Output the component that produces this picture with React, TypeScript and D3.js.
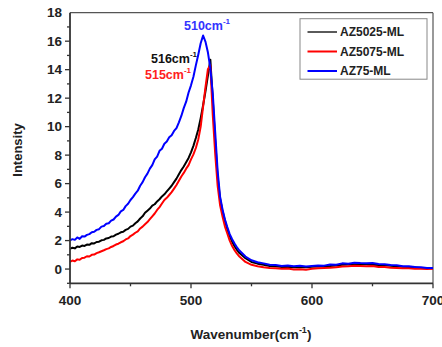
import React from "react";
import * as d3 from "d3";

const wavenumbers = [
  400, 402, 404, 406, 408, 410, 412, 414, 416, 418, 420, 422, 424, 426, 428, 430, 432, 434, 436, 438,
  440, 442, 444, 446, 448, 450, 452, 454, 456, 458, 460, 462, 464, 466, 468, 470, 472, 474, 476, 478,
  480, 482, 484, 486, 488, 490, 492, 494, 496, 498, 500, 502, 504, 506, 508, 510, 512, 514, 516, 518,
  520, 522, 524, 526, 528, 530, 532, 534, 536, 538, 540, 545, 550, 555, 560, 565, 570, 575, 580, 585,
  590, 595, 600, 605, 610, 615, 620, 625, 630, 635, 640, 645, 650, 655, 660, 665, 670, 675, 680, 685,
  690, 695, 700,
];

const az5025 = [
  1.42, 1.5, 1.45, 1.58, 1.55, 1.65, 1.62, 1.72, 1.7, 1.82, 1.8, 1.9, 1.92, 2.02, 2.05, 2.15, 2.18, 2.28, 2.3, 2.42,
  2.48, 2.58, 2.62, 2.75, 2.82, 2.98, 3.05, 3.22, 3.35, 3.55, 3.7, 3.95, 4.1, 4.25, 4.45, 4.55, 4.75, 4.9, 5.1, 5.25,
  5.45, 5.65, 5.85, 6.1, 6.35, 6.65, 6.95, 7.2, 7.5, 7.8, 8.2, 8.65, 9.2, 9.8, 10.6, 11.5, 12.5, 13.6, 14.7, 11.9,
  9.0, 6.5, 4.95, 4.1, 3.4, 2.8, 2.3, 1.92, 1.6, 1.35, 1.12, 0.76, 0.5, 0.38, 0.3, 0.22, 0.2, 0.15, 0.17, 0.12,
  0.15, 0.13, 0.16, 0.18, 0.2, 0.22, 0.25, 0.3, 0.32, 0.35, 0.34, 0.33, 0.3, 0.28, 0.26, 0.24, 0.2, 0.17, 0.15, 0.12,
  0.08, 0.07, 0.05,
];

const az5075 = [
  0.5, 0.6, 0.55, 0.68, 0.65, 0.78, 0.8, 0.9, 0.88, 1.0, 1.02, 1.12, 1.18, 1.25, 1.32, 1.4, 1.45, 1.55, 1.62, 1.72,
  1.78, 1.88, 1.95, 2.08, 2.15, 2.32, 2.42, 2.55, 2.65, 2.85, 2.98, 3.15, 3.3, 3.5, 3.7, 3.9, 4.15, 4.35, 4.6, 4.85,
  5.0, 5.2, 5.4, 5.65, 5.9, 6.2, 6.5, 6.75, 7.05, 7.3, 7.7, 8.05, 8.5, 9.1, 10.0, 11.4, 12.8, 14.05, 14.3, 10.8,
  8.1, 5.85, 4.5, 3.7, 3.0, 2.5, 2.0, 1.62, 1.32, 1.08, 0.88, 0.5, 0.3, 0.2, 0.12, 0.08, 0.05, 0.02, 0.04, -0.03,
  -0.02, -0.05, 0.02, 0.05, 0.08, 0.1, 0.12, 0.18, 0.2, 0.24, 0.22, 0.2, 0.21, 0.15, 0.14, 0.1, 0.08, 0.05, 0.06, 0.02,
  0.03, 0.0, 0.02,
];

const az75 = [
  2.02, 2.1, 2.05, 2.22, 2.12, 2.3, 2.28, 2.4, 2.45, 2.58, 2.62, 2.75, 2.8, 2.98, 3.02, 3.18, 3.22, 3.4, 3.48, 3.68,
  3.8, 4.05, 4.15, 4.42, 4.58, 4.85, 5.05, 5.3, 5.5, 5.85, 6.1, 6.45, 6.7, 7.05, 7.3, 7.7, 7.9, 8.3, 8.45, 8.8,
  8.95, 9.25, 9.4, 9.7, 9.9, 10.3, 10.75, 11.3, 11.75, 12.4, 12.9, 13.5, 14.3, 15.05, 15.85, 16.4, 15.95, 15.2, 14.1, 12.3,
  9.6, 6.9, 5.1, 4.2, 3.5, 2.95, 2.45, 2.1, 1.8, 1.52, 1.3, 0.88, 0.62, 0.48, 0.4, 0.3, 0.28, 0.22, 0.25, 0.2,
  0.24, 0.18, 0.22, 0.25, 0.24, 0.32, 0.3, 0.4, 0.38, 0.45, 0.42, 0.4, 0.42, 0.35, 0.34, 0.28, 0.26, 0.2, 0.2, 0.14,
  0.13, 0.08, 0.08,
];

const seriesNames = ["AZ5025-ML", "AZ5075-ML", "AZ75-ML"];
const seriesColors = ["#000000", "#ff0000", "#0000ff"];
const xTicks = [400, 500, 600, 700];
const yTicks = [0, 2, 4, 6, 8, 10, 12, 14, 16, 18];
const annotations = [
  { text: "510cm", x: 184, y: 30, color: "#3333ff" },
  { text: "516cm", x: 151, y: 63, color: "#111111" },
  { text: "515cm", x: 145, y: 79, color: "#ff2020" },
];

const W = 442;
const H = 347;
const left = 70;
const right = 433;
const top = 12.7;
const bottom = 283.3;

export default function App() {
  const x = d3.scaleLinear().domain([400, 700]).range([left, right]);
  const y = d3.scaleLinear().domain([-1, 18]).range([bottom, top]);
  const allSeries = [az5025, az5075, az75];
  const line = d3
    .line<number>()
    .x((_, i) => x(wavenumbers[i]))
    .y((d) => y(d));
  const xMinor = d3.range(400, 701, 50);
  const yMinor = d3.range(-1, 18, 1);
  const font = "Arial, 'Liberation Sans', sans-serif";
  const axisColor = "#333333";

  return (
    <svg width={W} height={H} style={{ position: "absolute", left: 0, top: 0 }} fontFamily={font}>
      <rect x={0} y={0} width={W} height={H} fill="#ffffff" />
      {/* frame */}
      <line x1={left} x2={right} y1={top} y2={top} stroke="#555" strokeWidth={1.2} />
      <line x1={right} x2={right} y1={top} y2={bottom} stroke="#555" strokeWidth={1.2} />
      {/* series */}
      {allSeries.map((s, i) => (
        <path
          key={i}
          d={line(s) || ""}
          fill="none"
          stroke={seriesColors[i]}
          strokeWidth={2}
          strokeLinejoin="round"
        />
      ))}
      {/* axes */}
      <line x1={left} x2={left} y1={top} y2={bottom} stroke={axisColor} strokeWidth={1.8} />
      <line x1={left} x2={right} y1={bottom} y2={bottom} stroke={axisColor} strokeWidth={1.8} />
      {yMinor.map((v) => (
        <line
          key={"ym" + v}
          x1={left}
          x2={left - (v % 2 === 0 ? 5 : 3)}
          y1={y(v)}
          y2={y(v)}
          stroke={axisColor}
          strokeWidth={1.3}
        />
      ))}
      {yTicks.map((v) => (
        <text
          key={"yt" + v}
          x={left - 8}
          y={y(v)}
          dy="0.35em"
          textAnchor="end"
          fontSize={13.5}
          fontWeight="bold"
          fill="#222"
        >
          {v}
        </text>
      ))}
      {xMinor.map((v) => (
        <line
          key={"xm" + v}
          x1={x(v)}
          x2={x(v)}
          y1={bottom}
          y2={bottom + (v % 100 === 0 ? 5 : 3)}
          stroke={axisColor}
          strokeWidth={1.3}
        />
      ))}
      {xTicks.map((v) => (
        <text
          key={"xt" + v}
          x={x(v)}
          y={305}
          textAnchor="middle"
          fontSize={13.5}
          fontWeight="bold"
          fill="#222"
        >
          {v}
        </text>
      ))}
      {/* axis titles */}
      <text
        x={251}
        y={339}
        textAnchor="middle"
        fontSize={13.5}
        fontWeight="bold"
        fill="#222"
      >
        Wavenumber(cm
        <tspan dy={-6} fontSize={9}>-1</tspan>
        <tspan dy={6}>)</tspan>
      </text>
      <text
        transform={`translate(22,150) rotate(-90)`}
        textAnchor="middle"
        fontSize={13}
        fontWeight="bold"
        fill="#222"
      >
        Intensity
      </text>
      {/* annotations */}
      {annotations.map((a, i) => (
        <text key={"an" + i} x={a.x} y={a.y} fontSize={12.5} fontWeight="bold" fill={a.color}>
          {a.text}
          <tspan dy={-6} fontSize={8}>-1</tspan>
        </text>
      ))}
      {/* legend */}
      <rect x={300} y={18.7} width={127} height={60.5} fill="#ffffff" stroke="#888" strokeWidth={1} />
      {seriesNames.map((n, i) => (
        <g key={"lg" + i}>
          <line
            x1={307.5}
            x2={337}
            y1={32 + i * 19.5}
            y2={32 + i * 19.5}
            stroke={seriesColors[i]}
            strokeWidth={i === 0 ? 1.3 : 2}
          />
          <text x={340} y={32 + i * 19.5} dy="0.36em" fontSize={12} fontWeight="bold" fill="#222">
            {n}
          </text>
        </g>
      ))}
    </svg>
  );
}
